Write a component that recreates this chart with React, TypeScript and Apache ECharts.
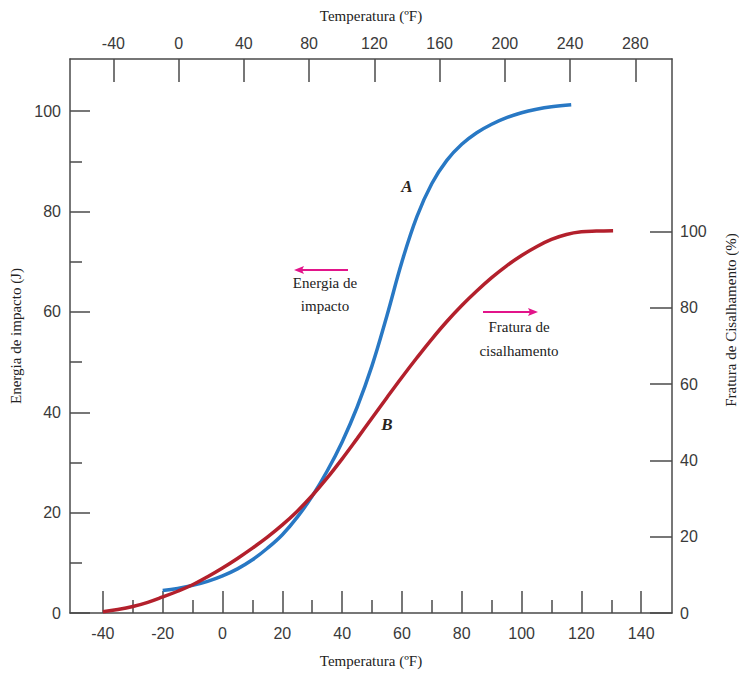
import React, { useEffect, useRef } from "react";
import * as echarts from "echarts";

// Curve A: impact energy (J) vs temperature (°C)
const energyTemp = [-20, -15, -10, -5, 0, 5, 10, 15, 20, 25, 30, 35, 40, 45, 50, 55, 60, 65, 70, 75, 80, 85, 90, 95, 100, 105, 110, 116.6];
const energyVals = [4.5, 4.9, 5.5, 6.3, 7.4, 8.8, 10.6, 12.9, 15.6, 19.1, 23.3, 28.3, 34.1, 41.0, 49.3, 59.3, 70.0, 79.0, 85.6, 90.2, 93.4, 95.7, 97.4, 98.7, 99.7, 100.4, 100.9, 101.3];

// Curve B: shear fracture (%) vs temperature (°C)
const shearTemp = [-40, -35, -30, -25, -20, -15, -10, -5, 0, 5, 10, 15, 20, 25, 30, 35, 40, 45, 50, 55, 60, 65, 70, 75, 80, 85, 90, 95, 100, 105, 110, 115, 120, 125, 130.6];
const shearVals = [0.3, 0.9, 1.7, 2.8, 4.2, 5.7, 7.4, 9.5, 11.8, 14.3, 17.0, 19.9, 23.1, 26.7, 30.8, 35.4, 40.4, 45.7, 51.1, 56.5, 61.8, 66.9, 71.8, 76.4, 80.6, 84.4, 87.9, 91.0, 93.7, 96.0, 97.9, 99.2, 99.9, 100.1, 100.2];

// Tick values
const bottomTicks = [-40, -20, 0, 20, 40, 60, 80, 100, 120, 140];
const bottomMinorTicks = [-30, -10, 10, 30, 50, 70, 90, 110, 130];
const topTicks = [-40, 0, 40, 80, 120, 160, 200, 240, 280];
const leftTicks = [0, 20, 40, 60, 80, 100];
const leftMinorTicks = [10, 30, 50, 70, 90];
const rightTicks = [0, 20, 40, 60, 80, 100];

const AXIS = "#4a4a4a";
const LABEL = "#3a3a3a";
const SERIF = "'Liberation Serif', 'DejaVu Serif', serif";
const SANS = "'Liberation Sans', Arial, sans-serif";
const MAGENTA = "#e2148a";

export default function App() {
  const ref = useRef<HTMLDivElement>(null);
  useEffect(() => {
    if (!ref.current) return;
    const chart = echarts.init(ref.current, undefined, { renderer: "svg" });
    const axisLine = { show: true, onZero: false, lineStyle: { color: AXIS, width: 1.5 } };
    const noLine = { show: false, onZero: false };
    const labelStyle = { color: LABEL, fontSize: 16, fontFamily: SANS };
    const option: any = {
      animation: false,
      backgroundColor: "#ffffff",
      grid: { left: 70, right: 67, top: 59, bottom: 60, containLabel: false },
      xAxis: [
        {
          type: "value",
          position: "bottom",
          min: -51,
          max: 150.3,
          axisLine,
          splitLine: { show: false },
          axisTick: { show: true, inside: true, length: 22, customValues: bottomTicks, lineStyle: { color: AXIS, width: 1.5 } },
          axisLabel: { show: true, margin: 12, customValues: bottomTicks, ...labelStyle },
          name: "Temperatura (ºF)",
          nameLocation: "middle",
          nameGap: 40,
          nameTextStyle: { fontFamily: SERIF, fontSize: 15, color: "#222" },
        },
        {
          type: "value",
          position: "top",
          min: -66.6,
          max: 302.5,
          axisLine,
          splitLine: { show: false },
          axisTick: { show: true, inside: true, length: 23, customValues: topTicks, lineStyle: { color: AXIS, width: 1.5 } },
          axisLabel: { show: true, margin: 8, customValues: topTicks, ...labelStyle },
          name: "Temperatura (ºF)",
          nameLocation: "middle",
          nameGap: 36,
          nameTextStyle: { fontFamily: SERIF, fontSize: 15, color: "#222" },
        },
        {
          type: "value",
          position: "bottom",
          min: -51,
          max: 150.3,
          axisLine: noLine,
          splitLine: { show: false },
          axisTick: { show: true, inside: true, length: 13, customValues: bottomMinorTicks, lineStyle: { color: AXIS, width: 1.5 } },
          axisLabel: { show: false },
        },
      ],
      yAxis: [
        {
          type: "value",
          position: "left",
          min: 0,
          max: 110.4,
          axisLine,
          splitLine: { show: false },
          axisTick: { show: true, inside: true, length: 20, customValues: leftTicks, lineStyle: { color: AXIS, width: 1.5 } },
          axisLabel: { show: true, margin: 9, customValues: leftTicks, ...labelStyle },
          name: "Energia de impacto (J)",
          nameLocation: "middle",
          nameGap: 38,
          nameTextStyle: { fontFamily: SERIF, fontSize: 15, color: "#222" },
        },
        {
          type: "value",
          position: "right",
          min: 0,
          max: 145.2,
          axisLine,
          splitLine: { show: false },
          axisTick: { show: true, inside: true, length: 22, customValues: rightTicks, lineStyle: { color: AXIS, width: 1.5 } },
          axisLabel: { show: true, margin: 8, customValues: rightTicks, ...labelStyle },
        },
        {
          type: "value",
          position: "left",
          min: 0,
          max: 110.4,
          axisLine: noLine,
          splitLine: { show: false },
          axisTick: { show: true, inside: true, length: 12, customValues: leftMinorTicks, lineStyle: { color: AXIS, width: 1.5 } },
          axisLabel: { show: false },
        },
      ],
      series: [
        {
          type: "line",
          name: "A",
          xAxisIndex: 0,
          yAxisIndex: 0,
          data: energyTemp.map((t, i) => [t, energyVals[i]]),
          smooth: 0.4,
          showSymbol: false,
          lineStyle: { color: "#2878c4", width: 3.5 },
        },
        {
          type: "line",
          name: "B",
          xAxisIndex: 0,
          yAxisIndex: 1,
          data: shearTemp.map((t, i) => [t, shearVals[i]]),
          smooth: 0.4,
          showSymbol: false,
          lineStyle: { color: "#b3202c", width: 3.5 },
        },
      ],
      graphic: [
        {
          type: "text",
          x: 731,
          y: 320,
          rotation: Math.PI / 2,
          style: {
            text: "Fratura de Cisalhamento (%)",
            font: `15px ${SERIF}`,
            fill: "#222",
            align: "center",
            verticalAlign: "middle",
            textAlign: "center",
            textVerticalAlign: "middle",
          },
        },
        {
          type: "text",
          x: 407,
          y: 186,
          style: { text: "A", font: `italic bold 17px ${SERIF}`, fill: "#2a2520", align: "center", verticalAlign: "middle", textAlign: "center", textVerticalAlign: "middle" },
        },
        {
          type: "text",
          x: 387,
          y: 424,
          style: { text: "B", font: `italic bold 17px ${SERIF}`, fill: "#2a2520", align: "center", verticalAlign: "middle", textAlign: "center", textVerticalAlign: "middle" },
        },
        {
          type: "text",
          x: 325,
          y: 294,
          style: {
            text: "Energia de\nimpacto",
            font: `15px ${SERIF}`,
            lineHeight: 23,
            fill: "#222",
            align: "center",
            verticalAlign: "middle",
            textAlign: "center",
            textVerticalAlign: "middle",
          },
        },
        {
          type: "text",
          x: 519,
          y: 339,
          style: {
            text: "Fratura de\ncisalhamento",
            font: `15px ${SERIF}`,
            lineHeight: 24,
            fill: "#222",
            align: "center",
            verticalAlign: "middle",
            textAlign: "center",
            textVerticalAlign: "middle",
          },
        },
        {
          type: "line",
          shape: { x1: 300, y1: 270, x2: 348, y2: 270 },
          style: { stroke: MAGENTA, lineWidth: 2 },
        },
        {
          type: "polygon",
          shape: { points: [[294, 270], [304, 266], [302, 270], [304, 274]] },
          style: { fill: MAGENTA },
        },
        {
          type: "line",
          shape: { x1: 483, y1: 312, x2: 531, y2: 312 },
          style: { stroke: MAGENTA, lineWidth: 2 },
        },
        {
          type: "polygon",
          shape: { points: [[538, 312], [528, 308], [530, 312], [528, 316]] },
          style: { fill: MAGENTA },
        },
      ],
    };
    chart.setOption(option);
    return () => chart.dispose();
  }, []);
  return <div ref={ref} style={{ width: 739, height: 673, position: "absolute", left: 0, top: 0 }} />;
}
